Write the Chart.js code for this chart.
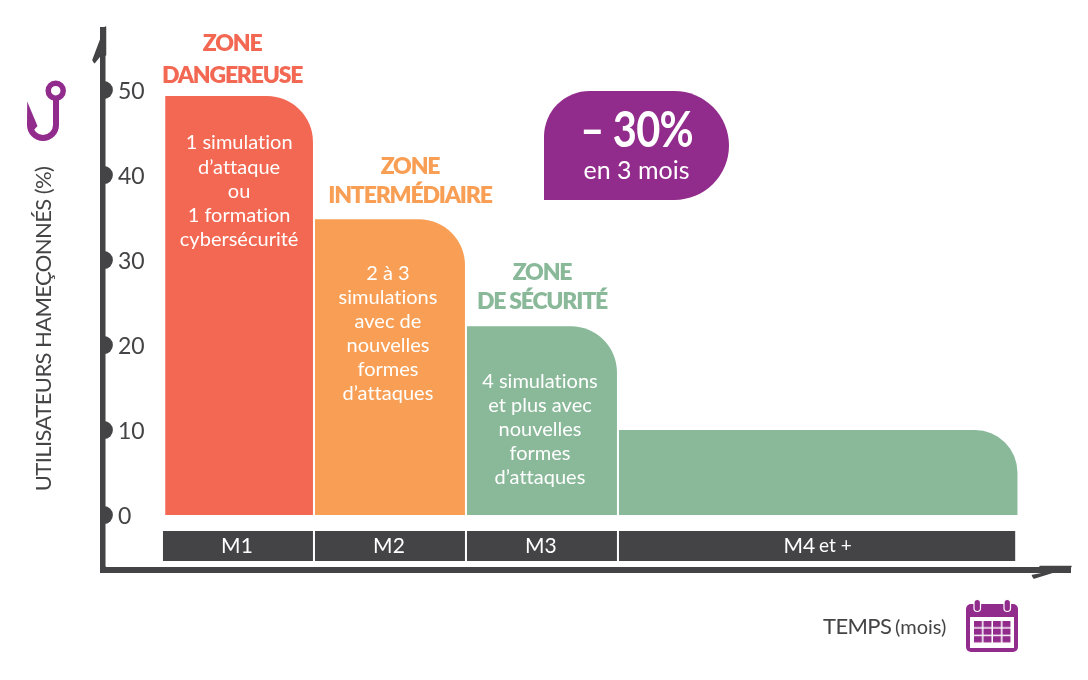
<!DOCTYPE html>
<html lang="fr">
<head>
<meta charset="utf-8">
<title>Utilisateurs hameçonnés</title>
<script src="https://cdn.jsdelivr.net/npm/chart.js@4/dist/chart.umd.min.js"></script>
<style>
  html, body { margin: 0; padding: 0; background: #fff; }
  #wrap { position: relative; width: 1088px; height: 680px; overflow: hidden; font-family: Lato, sans-serif; }
  canvas { position: absolute; left: 0; top: 0; }
  #callout {
    position: absolute; left: 544px; top: 91px; width: 185px; height: 109px;
    background: #922c8c; color: #fff; text-align: center;
    border-radius: 46px 55px 55px 0;
  }
  #callout .big { position: absolute; left: 0; right: 0; top: 8px; font-size: 49px; font-weight: 700; line-height: 58px; letter-spacing: -1px; transform: scaleX(0.85); }
  #callout .small { position: absolute; left: 0; right: 0; top: 62px; font-size: 25px; line-height: 32px; }
  svg { position: absolute; }
</style>
</head>
<body>
<div id="wrap">
  <canvas id="chart" width="1088" height="680"></canvas>
  <div id="callout"><div class="big">– 30%</div><div class="small">en 3 mois</div></div>
  <svg style="left:20px;top:75px" width="50" height="72" viewBox="20 75 50 72">
    <circle cx="55.7" cy="90.7" r="7.5" fill="#fff" stroke="#922c8c" stroke-width="5.5"/>
    <path d="M56 98 V125 A13 13 0 0 1 30 125" fill="none" stroke="#922c8c" stroke-width="6"/>
    <path d="M27.2 101.5 L37.5 126 L33 131 L27 125 Z" fill="#922c8c"/>
  </svg>
  <svg style="left:960px;top:595px" width="64" height="62" viewBox="960 595 64 62">
    <defs>
      <pattern id="cells" x="974" y="621" width="9.5" height="7.6" patternUnits="userSpaceOnUse">
        <rect width="8" height="6.2" fill="#922c8c"/>
      </pattern>
    </defs>
    <rect x="966" y="604" width="52" height="48" rx="5" fill="#922c8c"/>
    <rect x="970" y="617" width="44" height="31" fill="#fff"/>
    <rect x="974" y="621" width="37" height="22" fill="url(#cells)"/>
    <rect x="974" y="599.5" width="6.5" height="12" rx="3.2" fill="#922c8c" stroke="#fff" stroke-width="1.2"/>
    <rect x="1004" y="599.5" width="6.5" height="12" rx="3.2" fill="#922c8c" stroke="#fff" stroke-width="1.2"/>
  </svg>
</div>
<script>
// Values
const months = ['M1', 'M2', 'M3', 'M4 et +'];
const hookedUsers = [49.3, 34.8, 22.2, 10];
const monthStart = [0, 1, 2, 3];
const monthEnd = [1, 2, 3, 5.62];
const zoneStart = [0.015, 1, 2, 3];
const zoneEnd = [1, 2, 3, 5.635];
const stripRange = [-5.41, -1.88];
const yTicks = [0, 10, 20, 30, 40, 50];

const zoneColors = ['#f26852', '#f99f55', '#8ab99a', '#8ab99a'];
const darkGrey = '#444345';
const FONT = 'Lato, sans-serif';

// zone headings and the text inside the bars
const zoneTitles = [['ZONE', 'DANGEREUSE'], ['ZONE', 'INTERMÉDIAIRE'], ['ZONE', 'DE SÉCURITÉ'], []];
const zoneTexts = [
    ['1 simulation', 'd’attaque', 'ou', '1 formation', 'cybersécurité'],
    ['2 à 3', 'simulations', 'avec de', 'nouvelles', 'formes', 'd’attaques'],
    ['4 simulations', 'et plus avec', 'nouvelles', 'formes', 'd’attaques'],
    []
];

const midpoints = (a, b) => a.map((v, i) => (v + b[i]) / 2);

// Bars have different widths here, so they get stretched to their month range on the x scale
const monthWidths = {
    id: 'monthWidths',
    afterDatasetsUpdate(chart) {
        const x = chart.scales.x;
        const fit = (idx, from, to) => {
            chart.getDatasetMeta(idx).data.forEach((bar, i) => {
                const left = x.getPixelForValue(from[i]) + 1;
                const right = x.getPixelForValue(to[i]) - 1;
                bar.x = (left + right) / 2;
                bar.width = right - left;
            });
        };
        fit(0, zoneStart, zoneEnd);
        fit(1, monthStart, monthEnd);
    }
};

const axisArrows = {
    id: 'axisArrows',
    afterDraw(chart) {
        const { ctx, chartArea: a } = chart;
        const arrow = (pts) => {
            ctx.beginPath();
            pts.forEach(([dx, dy], i) => {
                if (i === 0) ctx.moveTo(dx, dy);
                else ctx.lineTo(dx, dy);
            });
            ctx.closePath();
            ctx.fill();
            ctx.stroke();
        };
        ctx.save();
        ctx.fillStyle = darkGrey;
        ctx.strokeStyle = darkGrey;
        ctx.lineJoin = 'round';
        ctx.lineWidth = 1.5;
        ctx.fillRect(a.left - 3, a.bottom - 3, 6, 6);
        // top arrow
        arrow([
            [a.left + 2.5, a.top - 3],
            [a.left - 10, a.top + 30],
            [a.left - 8.5, a.top + 32.5],
            [a.left - 2.5, a.top + 25],
            [a.left + 2.5, a.top + 25]
        ]);
        // right arrow
        arrow([
            [a.right + 1, a.bottom - 3],
            [a.right - 36, a.bottom + 8.5],
            [a.right - 37.5, a.bottom + 6],
            [a.right - 22, a.bottom + 3],
            [a.right - 30, a.bottom - 3]
        ]);
        ctx.restore();
    }
};

const chartTexts = {
    id: 'chartTexts',
    afterDatasetsDraw(chart) {
        const { ctx, scales: { y } } = chart;
        const bars = chart.getDatasetMeta(0).data;
        const strips = chart.getDatasetMeta(1).data;
        const titleShift = [-7, 20, 0];
        const textShift = [0, -2, -2];
        ctx.save();
        ctx.textAlign = 'center';
        ctx.textBaseline = 'middle';

        // headings above the bars
        ctx.font = '800 23px ' + FONT;
        ctx.letterSpacing = '-1.2px';
        zoneTitles.forEach((lines, i) => {
            ctx.fillStyle = zoneColors[i];
            lines.forEach((line, n) => {
                const yTop = bars[i].y - [20, 24, 25][i] - (lines.length - 1 - n) * (i === 0 ? 32 : 29);
                ctx.fillText(line, bars[i].x + titleShift[i], yTop);
            });
        });

        // text in the bars
        ctx.font = '20px ' + FONT;
        ctx.letterSpacing = '0.01px';
        ctx.fillStyle = '#fff';
        zoneTexts.forEach((lines, i) => {
            lines.forEach((line, n) => {
                ctx.fillText(line, bars[i].x + textShift[i], bars[i].y + (i === 0 ? 47 : i === 1 ? 54 : 55) + n * 24.1);
            });
        });

        // month labels, the "et +" part is set smaller
        months.forEach((m, i) => {
            const [head, ...rest] = m.split(' ');
            const my = y.getPixelForValue((stripRange[0] + stripRange[1]) / 2);
            if (!rest.length) {
                ctx.font = '21px ' + FONT;
                ctx.fillText(head, strips[i].x - 1, my);
                return;
            }
            ctx.textAlign = 'right';
            ctx.font = '21px ' + FONT;
            ctx.fillText(head, strips[i].x - 2, my);
            ctx.textAlign = 'left';
            ctx.font = '19px ' + FONT;
            ctx.fillText(rest.join(' '), strips[i].x + 2, my);
            ctx.textAlign = 'center';
        });

        // axis titles
        ctx.fillStyle = darkGrey;
        ctx.font = '22px ' + FONT;
        ctx.letterSpacing = '-0.6px';
        ctx.textAlign = 'left';
        ctx.fillText('TEMPS', 823, 627);
        ctx.font = '20px ' + FONT;
        ctx.letterSpacing = '0px';
        ctx.fillText('(mois)', 895, 628);
        ctx.translate(44, 329);
        ctx.rotate(-Math.PI / 2);
        ctx.textAlign = 'center';
        ctx.font = '22px ' + FONT;
        ctx.letterSpacing = '-0.6px';
        ctx.fillText('UTILISATEURS HAMEÇONNÉS (%)', 0, 0);
        ctx.restore();
    }
};

new Chart(document.getElementById('chart'), {
    data: {
        datasets: [
            {
                type: 'bar',
                data: hookedUsers.map((v, i) => ({ x: midpoints(zoneStart, zoneEnd)[i], y: v })),
                backgroundColor: zoneColors,
                borderRadius: { topRight: 46, topLeft: 0, bottomLeft: 0, bottomRight: 0 },
                borderSkipped: false,
                inflateAmount: 0,
                grouped: false
            },
            {
                type: 'bar',
                data: months.map((m, i) => ({ x: midpoints(monthStart, monthEnd)[i], y: stripRange })),
                backgroundColor: darkGrey,
                borderSkipped: false,
                inflateAmount: 0,
                grouped: false
            },
            {
                // half dots on the axis, clipped at its left edge
                type: 'scatter',
                data: yTicks.map(v => ({ x: -0.382, y: v })),
                pointStyle: 'circle',
                pointRadius: 9,
                pointHoverRadius: 9,
                backgroundColor: darkGrey,
                borderWidth: 0,
                clip: { left: 3, top: false, right: false, bottom: false }
            }
        ]
    },
    options: {
        responsive: false,
        animation: false,
        layout: { padding: { left: 103, right: 18, top: 30, bottom: 110.5 } },
        plugins: { legend: { display: false }, tooltip: { enabled: false } },
        scales: {
            x: {
                type: 'linear',
                offset: false,
                min: -0.388,
                max: 5.974,
                afterFit(axis) { axis.height = 0; },
                grid: { display: false, drawTicks: false },
                ticks: { display: false },
                border: { color: darkGrey, width: 6 }
            },
            y: {
                type: 'linear',
                min: -6.41,
                max: 57.06,
                afterFit(axis) { axis.width = 0; },
                afterBuildTicks(axis) { axis.ticks = yTicks.map(v => ({ value: v })); },
                grid: { display: false, drawTicks: false },
                ticks: {
                    mirror: true,
                    padding: 15,
                    labelOffset: 2,
                    color: darkGrey,
                    font: { family: 'Lato', size: 23 }
                },
                border: { color: darkGrey, width: 5.5 }
            }
        }
    },
    plugins: [monthWidths, axisArrows, chartTexts]
});
</script>
</body>
</html>
